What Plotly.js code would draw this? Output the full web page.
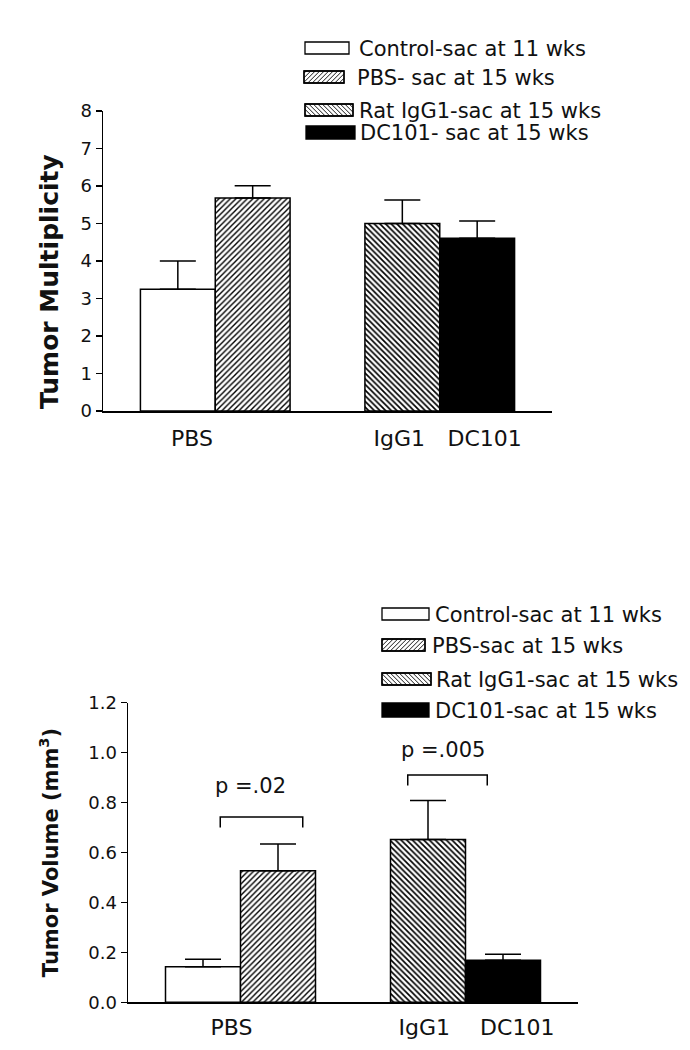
<!DOCTYPE html>
<html><head><meta charset="utf-8">
<script src="https://cdn.plot.ly/plotly-3.0.1.min.js"></script>
<style>html,body{margin:0;padding:0;background:#fff}</style>
</head><body><div id="chart" style="width:690px;height:1050px"></div>
<script>
// ---------- data ----------
const seriesNames = ['Control-sac at 11 wks','PBS-sac at 15 wks','Rat IgG1-sac at 15 wks','DC101-sac at 15 wks'];
const legendTopLabels = ['Control-sac at 11 wks','PBS- sac at 15 wks','Rat IgG1-sac at 15 wks','DC101- sac at 15 wks'];
const legendBottomLabels = ['Control-sac at 11 wks','PBS-sac at 15 wks','Rat IgG1-sac at 15 wks','DC101-sac at 15 wks'];
const groupLabels = ['PBS','IgG1','DC101'];
const multiplicityMean = [3.25, 5.68, 5.00, 4.61];
const multiplicitySEM  = [0.75, 0.33, 0.63, 0.46];
const volumeMean = [0.142, 0.527, 0.652, 0.168];
const volumeSEM  = [0.030, 0.107, 0.156, 0.024];
const pValueLabels = ['p =.02','p =.005'];
const yTitles = ['Tumor Multiplicity', 'Tumor Volume (mm<sup>3</sup>)'];

// ---------- layout helpers ----------
const W = 690, H = 1050;
const px = p => p / W;
const py = p => 1 - p / H;
const slotX = [1, 2, 4, 5];
const hatchA = {shape:'/',  size:4, solidity:0.35, fgcolor:'#000', bgcolor:'#fff', fillmode:'replace'};
const hatchB = {shape:'\\', size:4, solidity:0.42, fgcolor:'#000', bgcolor:'#fff', fillmode:'replace'};
const styles = [
  {color:'#ffffff', pattern:{shape:''}},
  {color:'#ffffff', pattern:hatchA},
  {color:'#ffffff', pattern:hatchB},
  {color:'#000000', pattern:{shape:''}}
];

function barTraces(means, sems, xa, ya) {
  return means.map((v, i) => ({
    type:'bar', x:[slotX[i]], y:[v], width:[1], xaxis:xa, yaxis:ya,
    name:seriesNames[i], showlegend:false, hoverinfo:'skip',
    marker:{color:styles[i].color, pattern:styles[i].pattern, line:{color:'#000', width:1.5}},
    error_y:{type:'data', symmetric:false, array:[sems[i]], arrayminus:[0],
             color:'#000', thickness:1.5, width:18}
  }));
}

function hatchPath(x0, y0, x1, y1, step, dir) {
  let d = '';
  if (dir === '/') {
    for (let c = x0 + y0 + step / 2; c < x1 + y1; c += step) {
      const xa = Math.max(x0, c - y1), xb = Math.min(x1, c - y0);
      if (xb <= xa) continue;
      d += `M${px(xa)},${py(c - xa)}L${px(xb)},${py(c - xb)}`;
    }
  } else {
    for (let c = x0 - y1 + step / 2; c < x1 - y0; c += step) {
      const xa = Math.max(x0, c + y0), xb = Math.min(x1, c + y1);
      if (xb <= xa) continue;
      d += `M${px(xa)},${py(xa - c)}L${px(xb)},${py(xb - c)}`;
    }
  }
  return d;
}

const kinds = ['none', '/', '\\', 'solid'];
function legendBlock(boxes, textX, labels) {
  const shapes = [], anns = [];
  boxes.forEach((b, i) => {
    const [x0, y0, x1, y1] = b;
    shapes.push({type:'rect', xref:'paper', yref:'paper', x0:px(x0), x1:px(x1), y0:py(y1), y1:py(y0),
      fillcolor: kinds[i] === 'solid' ? '#000' : '#fff', line:{color:'#000', width:1.3}});
    if (kinds[i] === '/' || kinds[i] === '\\') {
      shapes.push({type:'path', xref:'paper', yref:'paper', path:hatchPath(x0, y0, x1, y1, 4.5, kinds[i]),
        line:{color:'#000', width:0.9}});
      shapes.push({type:'rect', xref:'paper', yref:'paper', x0:px(x0), x1:px(x1), y0:py(y1), y1:py(y0),
        line:{color:'#000', width:1.3}});
    }
    anns.push({xref:'paper', yref:'paper', x:px(textX[i]), y:py((y0 + y1) / 2 + 1), xanchor:'left', yanchor:'middle',
      text:labels[i], showarrow:false, font:{size:21, color:'#111'}});
  });
  return {shapes, anns};
}

const legTop = legendBlock(
  [[305, 42, 349, 54], [304, 71, 344, 83], [305, 104, 353, 116], [306, 126, 355, 139]],
  [357, 355, 357, 358], legendTopLabels);
const legBot = legendBlock(
  [[382, 608, 429, 620], [382, 639, 425, 651], [382, 673, 431, 685], [382, 703, 429, 717]],
  [433, 430, 434, 433], legendBottomLabels);

// significance brackets (bottom chart)
const brackets = [[1.23, 2.33, 0.742], [3.73, 4.79, 0.91]];
const bracketDrop = 0.042;
const pTextPos = [[1.63, 0.865], [4.2, 1.009]];
const bracketShapes = brackets.map(b => ({
  type:'path', xref:'x2', yref:'y2',
  path:`M${b[0]},${b[2] - bracketDrop}L${b[0]},${b[2]}L${b[1]},${b[2]}L${b[1]},${b[2] - bracketDrop}`,
  line:{color:'#000', width:1.5}
}));
const pAnns = pValueLabels.map((t, i) => ({
  xref:'x2', yref:'y2', x:pTextPos[i][0], y:pTextPos[i][1], text:t, showarrow:false,
  xanchor:'center', yanchor:'middle', font:{size:21, color:'#111'}
}));

// y title of the upper chart (placed slightly below the axis centre, as in the original)
const topTitleAnn = {xref:'paper', yref:'paper', x:px(49), y:py(282), xanchor:'center', yanchor:'middle',
  textangle:-90, text:yTitles[0], showarrow:false, font:{size:25, weight:'bold', color:'#111'}};

const axisLine = {showline:true, linecolor:'#000', linewidth:1.5, showgrid:false, zeroline:false, fixedrange:true};
const yTicks = {ticks:'outside', ticklen:6, tickwidth:1.5, tickcolor:'#000', tickfont:{size:18, color:'#111'}};

const layout = {
  width:W, height:H, margin:{l:0, r:0, t:0, b:0},
  paper_bgcolor:'#fff', plot_bgcolor:'rgba(0,0,0,0)',
  barmode:'overlay', showlegend:false,
  font:{family:'DejaVu Sans', color:'#111'},
  xaxis:Object.assign({}, axisLine, {domain:[px(103), px(552)], range:[0, 6], anchor:'y', ticks:'',
    tickvals:[1.19, 3.96, 5.1], ticktext:groupLabels, tickfont:{size:22, color:'#111'}, ticklabelstandoff:7}),
  yaxis:Object.assign({}, axisLine, yTicks, {domain:[py(411), py(111)], range:[0, 8], anchor:'x', dtick:1, tick0:0}),
  xaxis2:Object.assign({}, axisLine, {domain:[px(128), px(578)], range:[0, 6], anchor:'y2', ticks:'',
    tickvals:[1.38, 3.95, 5.19], ticktext:groupLabels, tickfont:{size:22, color:'#111'}, ticklabelstandoff:5}),
  yaxis2:Object.assign({}, axisLine, yTicks, {domain:[py(1002.3), py(702.7)], range:[0, 1.2], anchor:'x2', dtick:0.2, tick0:0,
    tickformat:'.1f',
    title:{text:yTitles[1], font:{size:21, weight:'bold', color:'#111'}, standoff:24}}),
  shapes:[].concat(legTop.shapes, legBot.shapes, bracketShapes),
  annotations:[].concat(legTop.anns, legBot.anns, pAnns, [topTitleAnn])
};

const traces = [].concat(
  barTraces(multiplicityMean, multiplicitySEM, 'x', 'y'),
  barTraces(volumeMean, volumeSEM, 'x2', 'y2')
);

Plotly.newPlot('chart', traces, layout, {staticPlot:true, displayModeBar:false});
</script>
</body></html>
